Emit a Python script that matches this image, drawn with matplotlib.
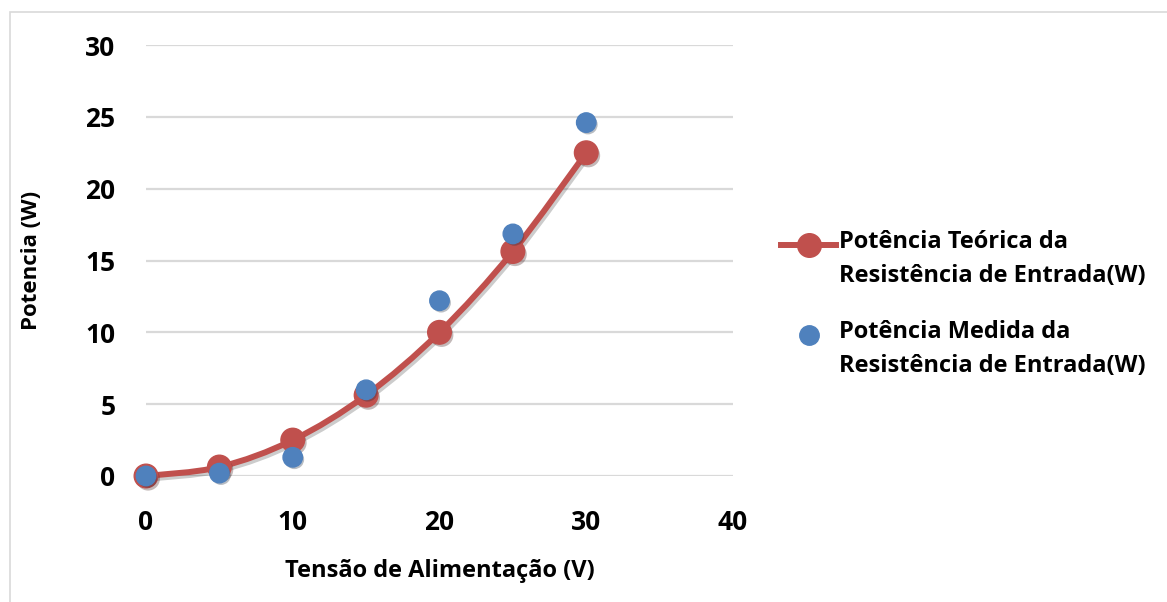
import matplotlib
matplotlib.use("Agg")
import matplotlib.pyplot as plt
from matplotlib.path import Path
from matplotlib.patches import PathPatch, Rectangle
from matplotlib.lines import Line2D
from matplotlib.legend_handler import HandlerLine2D
import matplotlib.patheffects as pe
import numpy as np

tensao = [0, 5, 10, 15, 20, 25, 30]
pot_teorica = [0, 0.625, 2.5, 5.625, 10, 15.625, 22.5]
pot_medida = [0, 0.2, 1.3, 6.0, 12.2, 16.85, 24.6]
x_ticks = [0, 10, 20, 30, 40]
y_ticks = [0, 5, 10, 15, 20, 25, 30]
label_teorica = "Potência Teórica da\nResistência de Entrada(W)"
label_medida = "Potência Medida da\nResistência de Entrada(W)"
xlabel = "Tensão de Alimentação (V)"
ylabel = "Potencia (W)"

RED = "#C0504D"
BLUE = "#4F81BD"
FONT = "Open Sans"
W = "bold"

plt.rcParams["font.family"] = [FONT, "DejaVu Sans"]
plt.rcParams["font.weight"] = W


class TopHandler(HandlerLine2D):
    """Place legend handle level with the first text line."""
    def create_artists(self, legend, orig_handle, xdescent, ydescent, width, height,
                       fontsize, trans):
        arts = super().create_artists(legend, orig_handle, xdescent, ydescent, width,
                                      height, fontsize, trans)
        dy = fontsize * 0.62
        for a in arts:
            a.set_ydata(np.asarray(a.get_ydata(), float) + dy)
        return arts


fig = plt.figure(figsize=(11.67, 6.02), dpi=100)
fig.patches.append(Rectangle((10/1167, -0.1), 1.2, 1 - 12/602 + 0.1, transform=fig.transFigure,
                             fill=False, edgecolor="#D9D9D9", linewidth=1.2, zorder=0))
ax = fig.add_axes([146/1167, 1 - 476/602, (733 - 146)/1167, (476 - 45)/602])

ax.set_xlim(0, 40)
ax.set_ylim(0, 30)
for s in ax.spines.values():
    s.set_visible(False)
ax.set_yticks(y_ticks)
ax.set_xticks(x_ticks)
ax.yaxis.grid(True, color="#D9D9D9", linewidth=1.6)
ax.xaxis.grid(False)
ax.set_axisbelow(True)
ax.tick_params(length=0, labelsize=19)
ax.tick_params(axis="y", pad=22)
ax.tick_params(axis="x", pad=24)
for lab in ax.get_xticklabels() + ax.get_yticklabels():
    lab.set_fontweight(W)

# smooth curve (Catmull-Rom as Bezier) through theoretical points
xs = np.array(tensao, float)
ys = np.array(pot_teorica, float)
verts = [(xs[0], ys[0])]
codes = [Path.MOVETO]
n = len(xs)
t = 1 / 6
for i in range(n - 1):
    p0 = (xs[max(i - 1, 0)], ys[max(i - 1, 0)])
    p1 = (xs[i], ys[i])
    p2 = (xs[i + 1], ys[i + 1])
    p3 = (xs[min(i + 2, n - 1)], ys[min(i + 2, n - 1)])
    c1 = (p1[0] + (p2[0] - p0[0]) * t, p1[1] + (p2[1] - p0[1]) * t)
    c2 = (p2[0] - (p3[0] - p1[0]) * t, p2[1] - (p3[1] - p1[1]) * t)
    verts += [c1, c2, p2]
    codes += [Path.CURVE4] * 3
shadow = [pe.SimpleLineShadow(offset=(1.5, -2), shadow_color="black", alpha=0.2), pe.Normal()]
patch = PathPatch(Path(verts, codes), facecolor="none", edgecolor=RED, linewidth=4.3,
                  capstyle="round", zorder=3, clip_on=False, path_effects=shadow)
ax.add_patch(patch)

ax.plot(tensao, pot_teorica, linestyle="none", marker="o", markersize=17, color=RED,
        markeredgecolor=RED, zorder=4, clip_on=False,
        path_effects=[pe.SimplePatchShadow(offset=(1.5, -2), alpha=0.3), pe.Normal()])
ax.plot(tensao, pot_medida, linestyle="none", marker="o", markersize=14, color=BLUE,
        markeredgecolor=BLUE, zorder=5, clip_on=False,
        path_effects=[pe.SimplePatchShadow(offset=(1.2, -1.5), alpha=0.3), pe.Normal()])

ax.set_xlabel(xlabel, fontsize=17, fontweight=W, labelpad=16)
ax.set_ylabel(ylabel, fontsize=16, fontweight=W, labelpad=31)

h1 = Line2D([], [], color=RED, linewidth=4.3, marker="o", markersize=17)
h2 = Line2D([], [], color=BLUE, linestyle="none", marker="o", markersize=14)
leg = fig.legend([h1, h2], [label_teorica, label_medida], loc="center left",
                 bbox_to_anchor=(760/1167, 1 - 304/602), frameon=False,
                 prop={"family": FONT, "weight": W, "size": 17},
                 handlelength=2.33, handletextpad=0.13, labelspacing=1.35,
                 handler_map={Line2D: TopHandler()})
for txt in leg.get_texts():
    txt.set_linespacing(1.55)

fig.savefig("out.png", dpi=100)
